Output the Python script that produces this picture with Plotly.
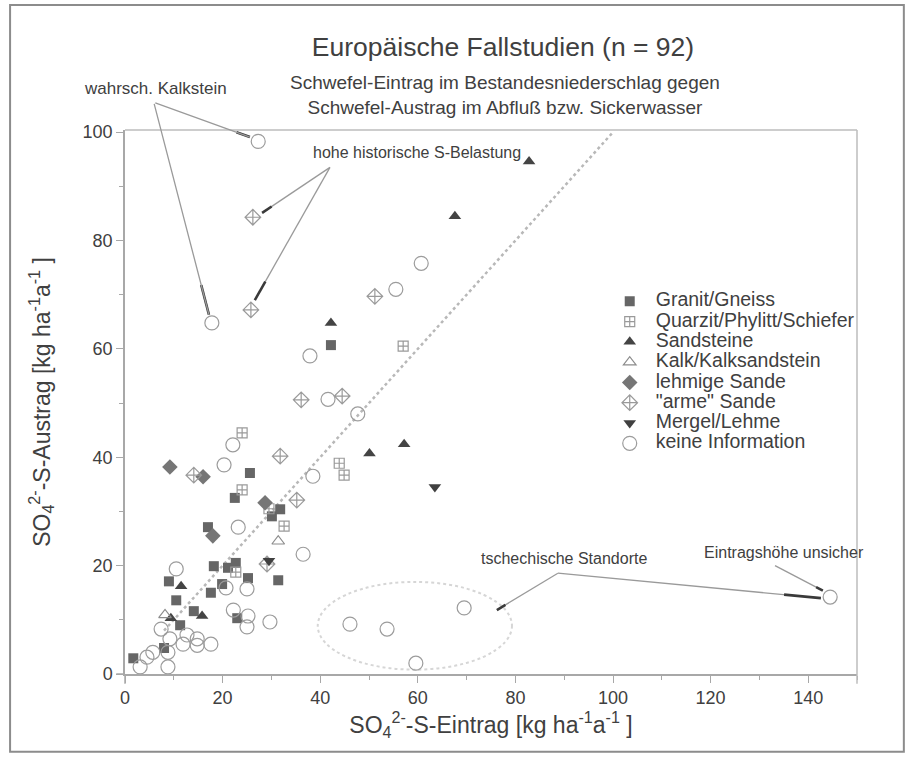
import plotly.graph_objects as go

FONT = "Liberation Sans, Arial, Helvetica, sans-serif"
TXT = "#404040"
AX = "#a8a8a8"

# SO4-S input (x) and output (y), kg ha-1 a-1, grouped by bedrock / soil type
granit_x = [1.7, 8.0, 9.0, 10.5, 11.3, 14.1, 17.0, 17.6, 18.2, 19.9, 21.1, 22.7, 22.5, 25.6, 25.2, 23.0, 30.1, 31.8, 31.4, 42.2]
granit_y = [2.9, 4.8, 17.1, 13.6, 9.0, 11.6, 27.1, 15.0, 19.9, 16.6, 19.6, 20.5, 32.5, 37.1, 17.7, 10.3, 29.1, 30.4, 17.3, 60.7]

quarzit_x = [24.0, 24.0, 29.5, 32.6, 22.7, 43.9, 44.9, 57.0]
quarzit_y = [44.5, 34.0, 30.5, 27.3, 18.8, 38.9, 36.7, 60.5]

sandstein_x = [11.5, 9.4, 15.8, 42.2, 67.6, 82.8, 50.1, 57.2]
sandstein_y = [16.2, 10.3, 10.7, 64.8, 84.5, 94.6, 40.7, 42.4]

kalk_x = [31.4, 8.2]
kalk_y = [24.5, 10.9]

lehm_sand_x = [9.2, 16.0, 18.0, 28.7]
lehm_sand_y = [38.2, 36.4, 25.5, 31.6]

arme_sand_x = [14.1, 31.8, 35.2, 29.1, 36.1, 44.5, 51.2, 25.8, 26.2]
arme_sand_y = [36.7, 40.2, 32.1, 20.3, 50.6, 51.3, 69.7, 67.2, 84.3]

mergel_x = [63.5, 29.5]
mergel_y = [34.5, 20.9]

keine_x = [27.3, 17.8, 60.7, 55.5, 37.9, 41.6, 47.7, 38.5, 22.1, 20.3, 23.2, 36.5,
           10.5, 20.7, 25.0, 22.2, 25.2, 25.0, 29.7, 46.1, 53.7, 59.6, 69.5, 144.5,
           7.4, 9.2, 11.9, 12.7, 14.8, 14.8, 17.6, 5.7, 4.5, 3.1, 8.8, 8.8]
keine_y = [98.3, 64.8, 75.8, 71.0, 58.7, 50.7, 48.0, 36.5, 42.3, 38.6, 27.1, 22.1,
           19.4, 15.9, 15.7, 11.8, 10.7, 8.7, 9.6, 9.2, 8.3, 2.0, 12.2, 14.2,
           8.3, 6.5, 5.5, 7.2, 6.5, 5.3, 5.5, 4.0, 3.1, 1.3, 1.3, 4.0]

# 1:1 line (input = output)
parity = [8, 100]

x_ticks = [0, 20, 40, 60, 80, 100, 120, 140]
y_ticks = [0, 20, 40, 60, 80, 100]

series = [
    ("Granit/Gneiss", granit_x, granit_y, "square", 10, "#666666"),
    ("Quarzit/Phylitt/Schiefer", quarzit_x, quarzit_y, "square-cross-open", 10, "#9a9a9a"),
    ("Sandsteine", sandstein_x, sandstein_y, "triangle-up", 11, "#444444"),
    ("Kalk/Kalksandstein", kalk_x, kalk_y, "triangle-up-open", 11, "#8c8c8c"),
    ("lehmige Sande", lehm_sand_x, lehm_sand_y, "diamond", 12, "#767676"),
    ("\"arme\" Sande", arme_sand_x, arme_sand_y, "diamond-cross-open", 12, "#9a9a9a"),
    ("Mergel/Lehme", mergel_x, mergel_y, "triangle-down", 11, "#404040"),
    ("keine Information", keine_x, keine_y, "circle-open", 14, "#9c9c9c"),
]

fig = go.Figure()

fig.add_trace(go.Scatter(
    x=parity, y=parity, mode="lines", showlegend=False, hoverinfo="skip",
    line=dict(color="#b8b8b8", width=2.5, dash="dot"),
))

for name, xs, ys, sym, size, color in series:
    fig.add_trace(go.Scatter(
        x=xs, y=ys, mode="markers", cliponaxis=False,
        name=f'<span style="font-size:19.5px">{name}</span>',
        marker=dict(symbol=sym, size=size, color=color,
                    line=dict(width=1.2 if "open" in sym else 0, color=color)),
    ))

annotations = []
shapes = []


def leader(tail, tip, inside=True):
    """Grey leader line with a short dark segment at the pointing end."""
    f = 0.86
    mid = (tail[0] + f * (tip[0] - tail[0]), tail[1] + f * (tip[1] - tail[1]))
    if inside:
        shapes.append(dict(type="line", xref="x", yref="y", x0=tail[0], y0=tail[1],
                           x1=tip[0], y1=tip[1], line=dict(color="#9a9a9a", width=1.3)))
        shapes.append(dict(type="line", xref="x", yref="y", x0=mid[0], y0=mid[1],
                           x1=tip[0], y1=tip[1], line=dict(color="#3a3a3a", width=2.6)))
    else:
        # starts above the plot area, so drawn as an arrow annotation (not clipped)
        annotations.append(dict(x=tip[0], y=tip[1], ax=tail[0], ay=tail[1], xref="x", yref="y",
                                axref="x", ayref="y", text="", showarrow=True, arrowhead=0,
                                arrowwidth=1.3, arrowcolor="#9a9a9a"))
        shapes.append(dict(type="line", xref="x", yref="y", x0=mid[0], y0=mid[1],
                           x1=tip[0], y1=tip[1], line=dict(color="#3a3a3a", width=2.6)))


def label(x, y, text, size=16, xref="x", yref="y"):
    annotations.append(dict(
        x=x, y=y, xref=xref, yref=yref, text=text, showarrow=False,
        font=dict(family=FONT, size=size, color=TXT), xanchor="center", yanchor="middle",
    ))


# subtitle
annotations.append(dict(
    x=0.519, y=1.0645, xref="paper", yref="paper", showarrow=False,
    text="Schwefel-Eintrag im Bestandesniederschlag gegen<br>Schwefel-Austrag im Abfluß bzw. Sickerwasser",
    font=dict(family=FONT, size=19, color=TXT), xanchor="center", yanchor="middle",
))

# callouts
label(0.041, 1.077, "wahrsch. Kalkstein", size=17, xref="paper", yref="paper")
leader((5.9, 105.5), (25.6, 99.1), inside=False)
leader((5.9, 105.5), (17.2, 66.3), inside=False)

label(59.8, 96.3, "hohe historische S-Belastung")
leader((42.0, 93.5), (28.1, 85.1))
leader((42.0, 93.5), (26.6, 69.0))

label(90.0, 21.3, "tschechische Standorte")
leader((88.7, 18.6), (76.2, 11.8))
leader((88.7, 18.6), (142.6, 14.0))

label(135.0, 22.5, "Eintragshöhe unsicher")
leader((133.2, 20.0), (143.0, 15.4))

# dotted outline around the Czech sites
shapes.append(dict(type="circle", xref="x", yref="y", x0=39.5, x1=79.3, y0=0.8, y1=17.0,
                   line=dict(color="#d6d6d6", width=2, dash="dot"), layer="below"))

# frame lines on top and right, short axis stubs below / left of the origin
shapes += [
    dict(type="line", xref="paper", yref="paper", x0=0, x1=1, y0=1, y1=1,
         line=dict(color="#bdbdbd", width=1.5)),
    dict(type="line", xref="paper", yref="paper", x0=1, x1=1, y0=-0.018, y1=1,
         line=dict(color="#bdbdbd", width=1.5)),
    dict(type="line", xref="paper", yref="paper", x0=0, x1=0, y0=-0.018, y1=0,
         line=dict(color=AX, width=1.5)),
    dict(type="line", xref="paper", yref="paper", x0=-0.012, x1=0, y0=0, y1=0,
         line=dict(color=AX, width=1.5)),
    # outer border of the figure
    dict(type="rect", xref="paper", yref="paper", x0=-0.157, x1=1.064, y0=-0.143, y1=1.230,
         line=dict(color="#8c8c8c", width=2)),
]

axis_common = dict(
    showgrid=False, zeroline=False, showline=True, linecolor=AX, linewidth=1.5,
    ticks="outside", ticklen=7, tickwidth=1.2, tickcolor=AX,
    tickfont=dict(family=FONT, size=18, color=TXT),
    minor=dict(dtick=10, ticks="outside", ticklen=4, tickcolor=AX, tickwidth=1),
)

fig.update_layout(
    width=910, height=764, autosize=False,
    margin=dict(l=125, r=53, t=130, b=90),
    paper_bgcolor="white", plot_bgcolor="white",
    title=dict(text="Europäische Fallstudien (n = 92)", x=503 / 910, xanchor="center",
               y=1 - 47 / 764, yanchor="middle", yref="container",
               font=dict(family=FONT, size=26.5, color=TXT)),
    xaxis=dict(range=[0, 150], tickvals=x_ticks,
               title=dict(text="SO<sub>4</sub><sup>2-</sup>-S-Eintrag [kg ha<sup>-1</sup>a<sup>-1</sup> ]",
                          font=dict(family=FONT, size=23, color=TXT), standoff=9),
               **axis_common),
    yaxis=dict(range=[0, 100.4], tickvals=y_ticks,
               title=dict(text="SO<sub>4</sub><sup>2-</sup>-S-Austrag [kg ha<sup>-1</sup>a<sup>-1</sup> ]",
                          font=dict(family=FONT, size=23, color=TXT), standoff=26),
               **axis_common),
    legend=dict(x=0.654, y=0.713, xanchor="left", yanchor="top", itemwidth=42,
                font=dict(family=FONT, size=13.3, color=TXT),
                bgcolor="rgba(0,0,0,0)", traceorder="normal"),
    annotations=annotations,
    shapes=shapes,
    showlegend=True,
)

fig.write_html("out.html")
